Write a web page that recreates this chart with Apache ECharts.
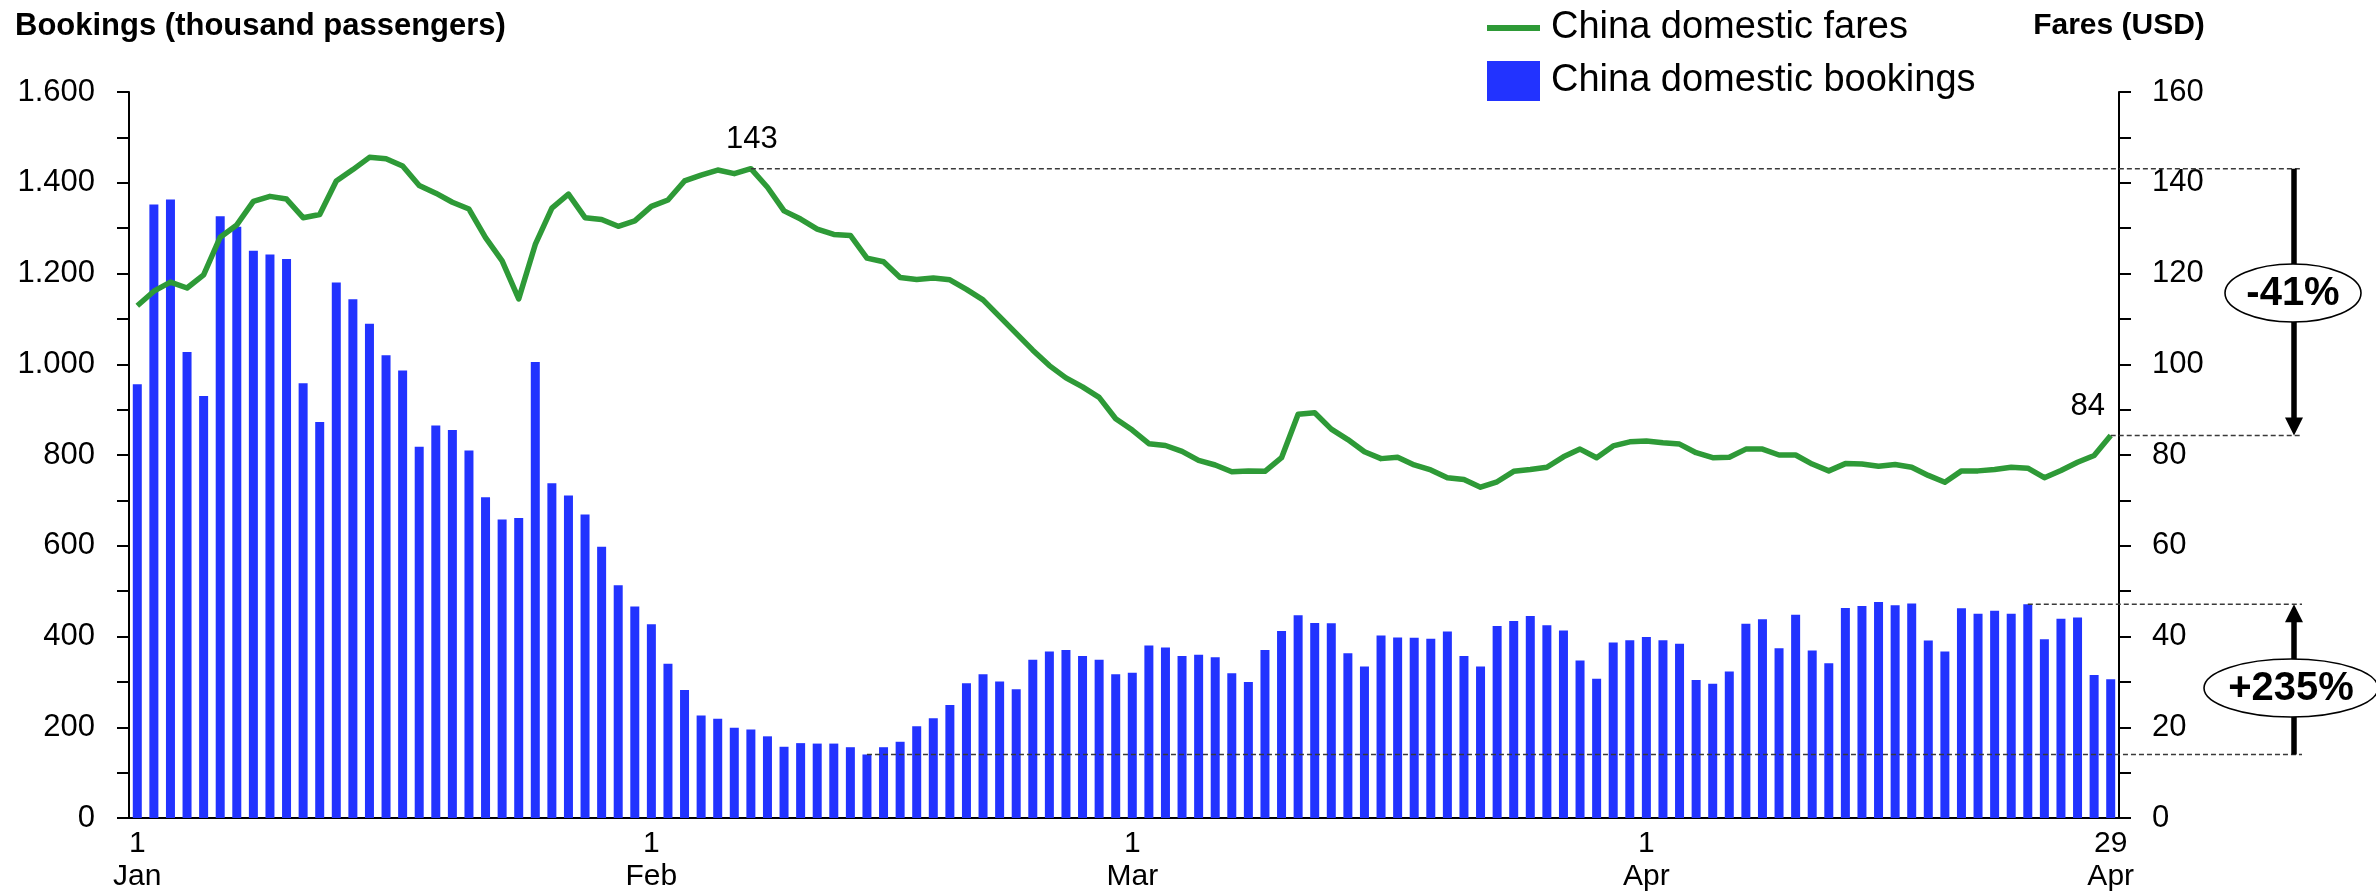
<!DOCTYPE html>
<html>
<head>
<meta charset="utf-8">
<script src="https://cdn.jsdelivr.net/npm/echarts@6.0.0/dist/echarts.min.js"></script>
<style>
  html, body { margin: 0; padding: 0; background: #fff; }
  #main { width: 2376px; height: 894px; }
</style>
</head>
<body>
<div id="main"></div>
<script>
// months shown on the axis (2020, leap year, data ends 29 Apr)
const monthNames = ['Jan', 'Feb', 'Mar', 'Apr']
const monthDays = [31, 29, 31, 29]
const tickDays = ['1 Jan', '1 Feb', '1 Mar', '1 Apr', '29 Apr']

// China domestic bookings, thousand passengers (left axis)
const bookings = [
  956, 1352, 1363, 1027, 930, 1326, 1303, 1250, 1242, 1232,
  958, 873, 1180, 1143, 1089, 1020, 986, 818, 865, 855,
  810, 707, 658, 661, 1005, 738, 711, 669, 598, 513,
  466, 427, 340, 282, 226, 219, 199, 195, 180, 157,
  165, 164, 164, 156, 140, 156, 168, 202, 220, 249,
  297, 317, 301, 284, 349, 367, 370, 357, 349, 317,
  320, 380, 376, 357, 360, 354, 319, 300, 370, 412,
  447, 430, 429, 363, 334, 402, 398, 397, 395, 411,
  357, 334, 423, 434, 445, 425, 413, 347, 307, 387,
  392, 399, 392, 384, 304, 296, 323, 428, 438, 374,
  448, 369, 341, 463, 467, 476, 469, 473, 391, 367,
  462, 450, 457, 450, 471, 394, 439, 442, 315, 306
]

// China domestic fares, USD (right axis)
const fares = [
  112.9, 116.1, 118.1, 116.8, 119.7, 128.0, 130.7, 135.9, 137.0, 136.4,
  132.3, 133.0, 140.4, 142.9, 145.6, 145.3, 143.7, 139.4, 137.7, 135.7,
  134.2, 127.9, 122.8, 114.4, 126.4, 134.4, 137.5, 132.3, 131.9, 130.4,
  131.6, 134.8, 136.2, 140.4, 141.7, 142.8, 142.0, 143.1, 139.0, 133.8,
  132.0, 129.8, 128.6, 128.4, 123.4, 122.6, 119.1, 118.7, 119.0, 118.6,
  116.5, 114.2, 110.5, 106.8, 103.1, 99.7, 97.0, 95.0, 92.7, 88.0,
  85.5, 82.5, 82.1, 80.8, 78.8, 77.8, 76.3, 76.5, 76.4, 79.4,
  89.0, 89.3, 85.7, 83.4, 80.7, 79.2, 79.5, 77.8, 76.7, 75.0,
  74.6, 72.9, 74.1, 76.4, 76.8, 77.3, 79.6, 81.3, 79.4, 82.0,
  82.9, 83.1, 82.7, 82.4, 80.5, 79.4, 79.5, 81.3, 81.3, 80.0,
  80.0, 78.0, 76.5, 78.1, 78.0, 77.5, 77.9, 77.3, 75.5, 74.0,
  76.5, 76.5, 76.8, 77.3, 77.1, 75.0, 76.6, 78.4, 79.9, 84.3
]

// points the annotations refer to
const farePeakIdx = 37
const fareLastIdx = 119
const bookLowIdx = 44
const bookHighIdx = 114

const categories = []
monthNames.forEach((m, k) => {
  for (let d = 1; d <= monthDays[k]; d++) categories.push(d + ' ' + m)
})

const FONT = '"Liberation Sans", Arial, sans-serif'
const BLUE = '#2233ff'
const GREEN = '#2e9a37'

const thousands = v => v >= 1000 ? Math.floor(v / 1000) + '.' + String(v % 1000).padStart(3, '0') : String(v)

const axisBase = {
  type: 'value',
  min: 0,
  splitLine: { show: false },
  axisLine: { show: true, lineStyle: { color: '#000', width: 2 } },
  axisTick: { show: true, length: 12, lineStyle: { color: '#000', width: 2 } },
  minorTick: { show: true, splitNumber: 2, length: 12, lineStyle: { color: '#000', width: 2 } },
  minorSplitLine: { show: false }
}

const myChart = echarts.init(document.getElementById('main'))
myChart.setOption({
  animation: false,
  textStyle: { fontFamily: FONT },
  grid: { left: 129, right: 257, top: 92, bottom: 76 },
  legend: {
    orient: 'vertical',
    left: 1482,
    top: 4,
    itemWidth: 53,
    itemHeight: 40,
    itemGap: 14,
    selectedMode: false,
    textStyle: { fontSize: 38, color: '#000', fontFamily: FONT, padding: [0, 0, 0, 6] },
    data: [
      { name: 'China domestic fares', icon: 'path://M0,0H53V6H0Z' },
      { name: 'China domestic bookings', icon: 'rect' }
    ]
  },
  xAxis: {
    type: 'category',
    data: categories,
    boundaryGap: true,
    axisLine: { lineStyle: { color: '#000', width: 2 } },
    axisTick: { show: false },
    axisLabel: {
      interval: (i, v) => tickDays.includes(v),
      formatter: v => v.replace(' ', '\n'),
      fontSize: 30,
      lineHeight: 33,
      margin: 9,
      color: '#000',
      fontFamily: FONT
    }
  },
  yAxis: [
    Object.assign({}, axisBase, {
      position: 'left',
      max: 1600,
      interval: 200,
      axisLabel: { formatter: thousands, fontSize: 31, color: '#000', margin: 34, fontFamily: FONT }
    }),
    Object.assign({}, axisBase, {
      position: 'right',
      max: 160,
      interval: 20,
      axisLabel: { fontSize: 31, color: '#000', margin: 33, fontFamily: FONT }
    })
  ],
  series: [
    {
      name: 'China domestic bookings',
      type: 'bar',
      data: bookings,
      barWidth: 9,
      itemStyle: { color: BLUE }
    },
    {
      name: 'China domestic fares',
      type: 'line',
      yAxisIndex: 1,
      data: fares,
      symbol: 'none',
      color: GREEN,
      lineStyle: { color: GREEN, width: 5.5, join: 'round' },
      z: 3
    }
  ]
})

// 注释：虚线、箭头和百分比
const toPx = (seriesIndex, i, v) => myChart.convertToPixel({ seriesIndex }, [i, v])
const lineEnd = 2302
const arrowX = 2294

const peak = toPx(1, farePeakIdx, fares[farePeakIdx])
const last = toPx(1, fareLastIdx, fares[fareLastIdx])
const low = toPx(0, bookLowIdx, bookings[bookLowIdx])
const high = toPx(0, bookHighIdx, bookings[bookHighIdx])

const dashed = p => ({
  type: 'line', z: 100,
  shape: { x1: p[0], y1: p[1], x2: lineEnd, y2: p[1] },
  style: { stroke: '#3a3a3a', lineWidth: 1.6, lineDash: [5, 3] }
})
const arrow = (yFrom, yTip) => {
  const dir = yTip > yFrom ? 1 : -1
  return [
    { type: 'line', z: 100, shape: { x1: arrowX, y1: yFrom, x2: arrowX, y2: yTip - dir * 16 },
      style: { stroke: '#000', lineWidth: 5.5 } },
    { type: 'polygon', z: 100,
      shape: { points: [[arrowX - 9, yTip - dir * 18], [arrowX + 9, yTip - dir * 18], [arrowX, yTip]] },
      style: { fill: '#000' } }
  ]
}
const badge = (cx, cy, rx, text) => [
  { type: 'ellipse', z: 101, shape: { cx, cy, rx, ry: 29 }, style: { fill: '#fff', stroke: '#000', lineWidth: 1.6 } },
  { type: 'text', z: 102, style: { text, x: cx, y: cy + 1, align: 'center', verticalAlign: 'middle',
    fontSize: 40, fontWeight: 'bold', fontFamily: FONT, fill: '#000' } }
]
const label = (x, y, text, opts) => ({
  type: 'text', z: 102,
  style: Object.assign({ text, x, y, align: 'center', verticalAlign: 'middle',
    fontSize: 31, fontFamily: FONT, fill: '#000' }, opts || {})
})

myChart.setOption({
  graphic: [
    label(15, 26, 'Bookings (thousand passengers)', { align: 'left', fontWeight: 'bold' }),
    label(2119, 26, 'Fares (USD)', { fontWeight: 'bold', fontSize: 30 }),
    label(peak[0] + 1, peak[1] - 29, String(Math.round(fares[farePeakIdx]))),
    label(last[0] - 23, last[1] - 29, String(Math.round(fares[fareLastIdx]))),
    dashed(peak), dashed(last), dashed(low), dashed(high),
    ...arrow(peak[1], last[1]),
    ...arrow(low[1], high[1]),
    ...badge(2293, 293, 68, '-41%'),
    ...badge(2291, 688, 87, '+235%')
  ]
})
</script>
</body>
</html>
